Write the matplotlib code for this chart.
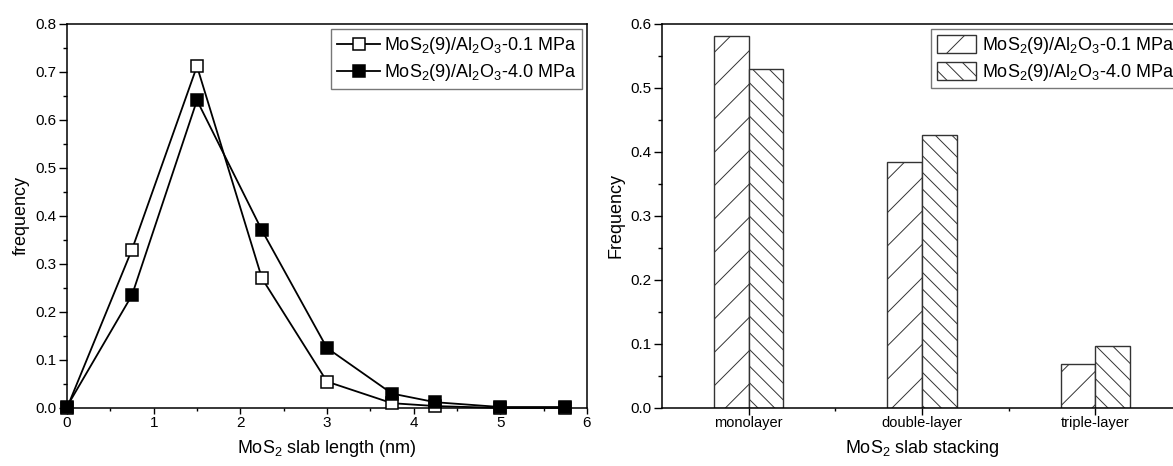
import numpy as np
import matplotlib.pyplot as plt
from matplotlib.ticker import MultipleLocator

plt.rcParams['font.family'] = ['Liberation Sans', 'DejaVu Sans']
plt.rcParams['mathtext.fontset'] = 'custom'
plt.rcParams['mathtext.rm'] = 'Liberation Sans'
plt.rcParams['hatch.linewidth'] = 0.7
plt.rcParams['hatch.color'] = '#333333'

# left panel: slab length distribution
length_nm = [0, 0.75, 1.5, 2.25, 3.0, 3.75, 4.25, 5.0, 5.75]
freq_01 = [0.0, 0.33, 0.712, 0.27, 0.055, 0.01, 0.004, 0.0, 0.0]
freq_40 = [0.003, 0.235, 0.641, 0.37, 0.125, 0.03, 0.012, 0.002, 0.002]

# right panel: slab stacking
stacking = ['monolayer', 'double-layer', 'triple-layer']
stack_01 = [0.582, 0.385, 0.068]
stack_40 = [0.529, 0.426, 0.097]

lab_01 = r'MoS$_\mathregular{2}$(9)/Al$_\mathregular{2}$O$_\mathregular{3}$-0.1 MPa'
lab_40 = r'MoS$_\mathregular{2}$(9)/Al$_\mathregular{2}$O$_\mathregular{3}$-4.0 MPa'

fig = plt.figure(figsize=(11.73, 4.66), dpi=100)
ax1 = fig.add_axes([0.0571, 0.1245, 0.4433, 0.824])
ax2 = fig.add_axes([0.5644, 0.1245, 0.4433, 0.824])

def style(ax):
    for s in ax.spines.values():
        s.set_linewidth(1.1)
    ax.tick_params(which='major', direction='out', length=6, width=1.0, labelsize=11,
                   pad=1.5, top=False, right=False)
    ax.tick_params(which='minor', direction='out', length=3, width=1.0, top=False, right=False)
    ax.tick_params(axis='x', which='major', length=4.5, pad=1)
    ax.tick_params(axis='x', which='minor', length=2.5)

# ---- left
ax1.plot(length_nm, freq_01, '-s', color='black', lw=1.3, ms=8, mfc='white', mec='black',
         mew=1.1, label=lab_01, clip_on=False, zorder=3)
ax1.plot(length_nm, freq_40, '-s', color='black', lw=1.3, ms=8, mfc='black', mec='black',
         mew=1.1, label=lab_40, clip_on=False, zorder=4)
ax1.set_xlim(0, 6)
ax1.set_ylim(0, 0.8)
ax1.xaxis.set_major_locator(MultipleLocator(1))
ax1.xaxis.set_minor_locator(MultipleLocator(0.5))
ax1.yaxis.set_major_locator(MultipleLocator(0.1))
ax1.yaxis.set_minor_locator(MultipleLocator(0.05))
ax1.set_yticklabels(['%.1f' % v for v in ax1.get_yticks()])
style(ax1)
ax1.set_xlabel(r'MoS$_\mathregular{2}$ slab length (nm)', fontsize=13, labelpad=6)
ax1.set_ylabel('frequency', fontsize=13, labelpad=4)
leg1 = ax1.legend(loc='upper right', fontsize=13, frameon=True, fancybox=False,
                  edgecolor='#555555', numpoints=1, handlelength=2.4, handletextpad=0.2,
                  borderpad=0.35, labelspacing=0.35, borderaxespad=0.25)
leg1.get_frame().set_linewidth(1.0)

# ---- right
x = np.arange(1, len(stacking) + 1)
w = 0.2
ax2.bar(x - w / 2, stack_01, w, facecolor='white', edgecolor='#333333', lw=1.0,
        hatch='/', label=lab_01)
ax2.bar(x + w / 2, stack_40, w, facecolor='white', edgecolor='#333333', lw=1.0,
        hatch='\\\\', label=lab_40)
ax2.set_xlim(0.5, 3.5)
ax2.set_ylim(0, 0.6)
ax2.set_xticks(x)
ax2.set_xticklabels(stacking)
ax2.set_xticks([1.5, 2.5], minor=True)
ax2.yaxis.set_major_locator(MultipleLocator(0.1))
ax2.yaxis.set_minor_locator(MultipleLocator(0.05))
ax2.set_yticklabels(['%.1f' % v for v in ax2.get_yticks()])
style(ax2)
ax2.tick_params(axis='x', which='major', length=5, labelsize=10.5, pad=0.5)
ax2.tick_params(axis='x', which='minor', length=2.5)
ax2.set_xlabel(r'MoS$_\mathregular{2}$ slab stacking', fontsize=13, labelpad=6)
ax2.set_ylabel('Frequency', fontsize=13, labelpad=4)
leg2 = ax2.legend(loc='upper right', fontsize=13, frameon=True, fancybox=False,
                  edgecolor='#555555', handlelength=2.2, handleheight=1.2, handletextpad=0.3,
                  borderpad=0.3, labelspacing=0.3, borderaxespad=0.3,
                  bbox_to_anchor=(1.005, 1.0))
leg2.get_frame().set_linewidth(1.0)

fig.savefig('out.png', dpi=100)
